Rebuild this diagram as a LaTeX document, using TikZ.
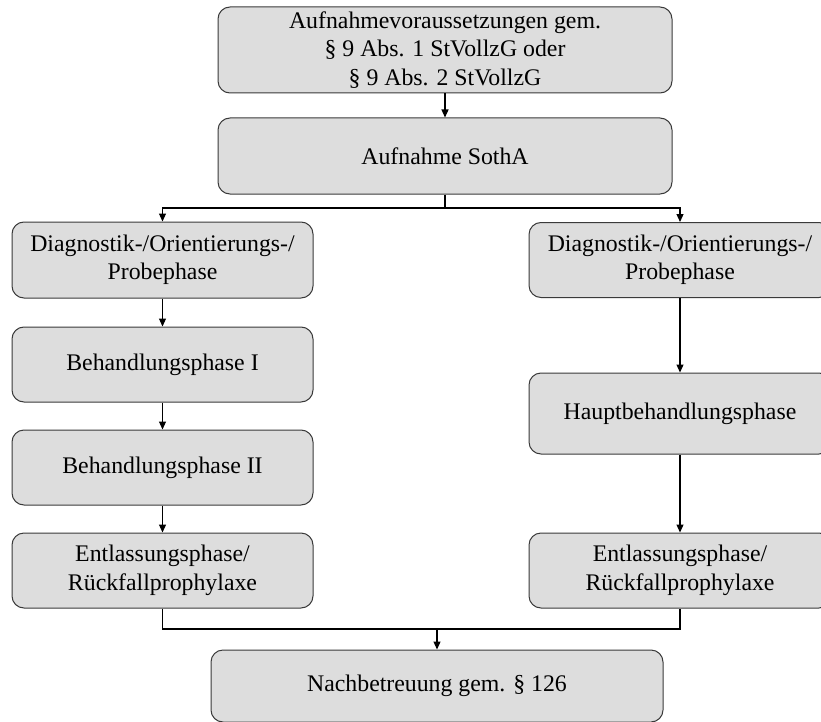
\documentclass[tikz,border=0pt]{standalone}
\usepackage{fontspec}
\setmainfont{Liberation Serif}
\usetikzlibrary{arrows.meta}
\definecolor{boxfill}{HTML}{DDDDDD}
\definecolor{boxline}{HTML}{3A3A3A}
\tikzset{
  phase/.style={draw=boxline, fill=boxfill, line width=1pt, rounded corners=12pt,
    inner sep=0pt, align=center, font=\fontsize{23.8}{28.5}\selectfont},
  arr/.style={line width=1.2pt, -{Triangle[length=8pt,width=7pt]}},
  ln/.style={line width=1.2pt}
}
\begin{document}
\begin{tikzpicture}[x=1pt,y=-1pt]
\useasboundingbox (0,0) rectangle (821,722);
\node[phase, minimum width=454pt, minimum height=86pt] (top) at (445,50)
  {Aufnahmevoraussetzungen gem.\\ \S\ 9 Abs. 1 StVollzG oder\\ \S\ 9 Abs. 2 StVollzG};
\node[phase, minimum width=454pt, minimum height=76pt] (sotha) at (445,156) {Aufnahme SothA};
\node[phase, minimum width=301pt, minimum height=76pt] (l1) at (162.5,260) {Diagnostik-/Orientierungs-/\\Probephase};
\node[phase, minimum width=301pt, minimum height=75pt] (l2) at (162.5,364.5) {Behandlungsphase I};
\node[phase, minimum width=301pt, minimum height=75pt] (l3) at (162.5,467.5) {Behandlungsphase II};
\node[phase, minimum width=301pt, minimum height=75pt] (l4) at (162.5,570.5) {Entlassungsphase/\\Rückfallprophylaxe};
\node[phase, minimum width=302pt, minimum height=75pt] (r1) at (680,260) {Diagnostik-/Orientierungs-/\\Probephase};
\node[phase, minimum width=302pt, minimum height=81pt] (r2) at (680,413.5) {Hauptbehandlungsphase};
\node[phase, minimum width=302pt, minimum height=75pt] (r3) at (680,570.5) {Entlassungsphase/\\Rückfallprophylaxe};
\node[phase, minimum width=452pt, minimum height=72pt] (nb) at (437,686) {Nachbetreuung gem. \S\ 126};
\coordinate (sp) at (445,208);
\coordinate (jn) at (437,629);
\draw[arr] (top) -- (sotha);
\draw[ln] (sotha) -- (sp);
\draw[arr] (sp) -| (l1);
\draw[arr] (sp) -| (r1);
\draw[arr] (l1) -- (l2);
\draw[arr] (l2) -- (l3);
\draw[arr] (l3) -- (l4);
\draw[arr] (r1) -- (r2);
\draw[arr] (r2) -- (r3);
\draw[ln] (l4.south) -- (l4.south |- jn) -- (r3.south |- jn) -- (r3.south);
\draw[arr] (jn) -- (nb);
\end{tikzpicture}
\end{document}
